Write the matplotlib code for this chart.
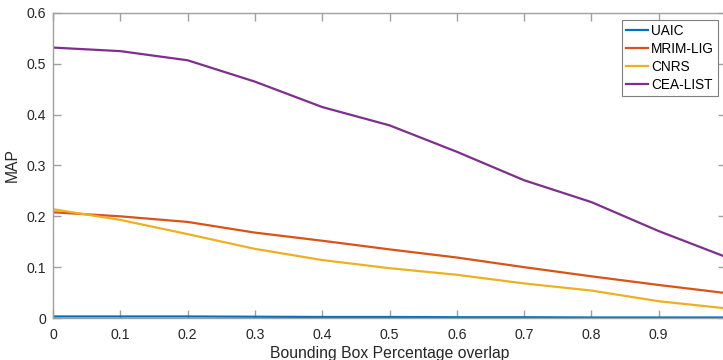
import numpy as np
import matplotlib
matplotlib.use('Agg')
import matplotlib.pyplot as plt

plt.rcParams['font.family'] = ['Liberation Sans', 'DejaVu Sans']

overlap = [0.0, 0.1, 0.2, 0.3, 0.4, 0.5, 0.6, 0.7, 0.8, 0.9, 1.0]
uaic = [0.003, 0.003, 0.003, 0.0025, 0.002, 0.002, 0.0015, 0.0015, 0.001, 0.001, 0.001]
mrim_lig = [0.208, 0.200, 0.189, 0.168, 0.152, 0.135, 0.119, 0.100, 0.082, 0.065, 0.049]
cnrs = [0.214, 0.193, 0.165, 0.136, 0.114, 0.098, 0.085, 0.068, 0.054, 0.033, 0.019]
cea_list = [0.532, 0.525, 0.507, 0.465, 0.415, 0.379, 0.327, 0.271, 0.228, 0.171, 0.120]

series = [('UAIC', uaic, '#0072BD'),
          ('MRIM-LIG', mrim_lig, '#D95319'),
          ('CNRS', cnrs, '#EDB120'),
          ('CEA-LIST', cea_list, '#7E2F8E')]

fig = plt.figure(figsize=(7.23, 3.6), dpi=100)
# axes run a bit past the right edge of the picture, as in the reference
ax = fig.add_axes([53/723, 42/360, 673/723, 305/360])

for name, vals, col in series:
    ax.plot(overlap, vals, color=col, lw=1.6, label=name)

ax.set_xlim(0, 1)
ax.set_ylim(0, 0.6)
ax.set_xticks(np.arange(0, 1.01, 0.1))
ax.set_xticklabels(['0', '0.1', '0.2', '0.3', '0.4', '0.5', '0.6', '0.7', '0.8', '0.9', '1'])
ax.set_yticks(np.arange(0, 0.61, 0.1))
ax.set_yticklabels(['0', '0.1', '0.2', '0.3', '0.4', '0.5', '0.6'])

for s in ax.spines.values():
    s.set_color('#a0a0a0')
    s.set_linewidth(1.0)
ax.tick_params(direction='in', length=6, width=1, color='#a0a0a0',
               labelcolor='#262626', labelsize=10.2, top=True, right=True)
ax.tick_params(axis='x', pad=7)
ax.tick_params(axis='y', pad=5)

ax.set_xlabel('Bounding Box Percentage overlap', fontsize=11.3, color='#262626', labelpad=3)
ax.set_ylabel('MAP', fontsize=11.3, color='#262626', labelpad=5)

leg = ax.legend(loc='upper right', bbox_to_anchor=(0.988, 0.977), fontsize=9.8,
                handlelength=1.6, handletextpad=0.2, borderpad=0.3,
                labelspacing=0.28, fancybox=False, framealpha=1, borderaxespad=0)
leg.get_frame().set_edgecolor('#7f7f7f')
leg.get_frame().set_linewidth(0.8)

fig.savefig('out.png', dpi=100)
